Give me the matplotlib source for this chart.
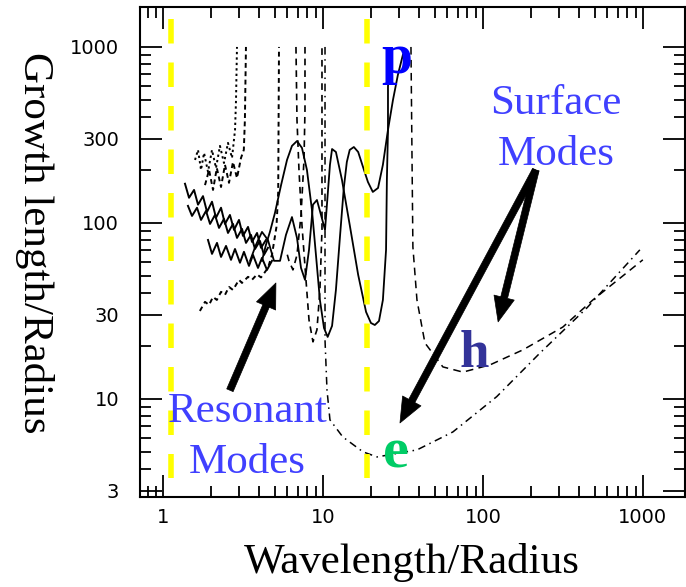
import matplotlib.pyplot as plt
from matplotlib.ticker import FixedLocator, NullFormatter

plt.rcParams["font.family"] = ["Liberation Serif", "DejaVu Serif"]

# resonant (body) modes
wig_upper_x = [1.372, 1.454, 1.563, 1.655, 1.778, 1.884, 2.024, 2.144, 2.305, 2.44,
               2.62, 2.78, 2.985, 3.16, 3.40, 3.60, 3.87, 4.10, 4.40]
wig_upper_y = [167, 139, 154, 127, 142, 115.5, 132, 107, 122, 98.7,
               111, 91.3, 104, 84.4, 94.9, 78.0, 87.7, 72.2, 80.0]

wig_mid_x = [1.432, 1.518, 1.631, 1.728, 1.857, 1.968, 2.113, 2.239, 2.405, 2.548,
             2.738, 2.901, 3.117, 3.302, 3.548, 3.758, 4.038, 4.276, 4.53]
wig_mid_y = [125, 109.6, 122, 104, 117, 98.7, 111, 93.7, 105.4, 87.7,
             98.7, 82.2, 92.5, 77.0, 85.5, 71.1, 79.0, 65.8, 72.2]

wig_low_x = [1.911, 2.024, 2.175, 2.305, 2.477, 2.661, 2.818, 3.028, 3.206, 3.447,
             3.652, 3.925, 4.156, 4.467, 4.8]
wig_low_y = [80.0, 66.7, 77.0, 64.1, 74.0, 61.7, 71.1, 59.4, 68.5, 57.0,
             65.8, 55.5, 63.3, 54.1, 60.9]

dot_a_x = [1.585, 1.655, 1.728, 1.805, 1.911, 2.024, 2.144, 2.27, 2.405, 2.548,
           2.70, 2.82, 2.86, 2.90]
dot_a_y = [228, 260, 200, 250, 195, 260, 205, 274, 219, 285, 234, 338, 500, 1000]

dash_b_x = [1.83, 1.94, 2.054, 2.17, 2.305, 2.44, 2.585, 2.738, 2.90, 3.073,
            3.20, 3.25, 3.30]
dash_b_y = [164, 200, 154, 205, 160, 214, 169, 222, 180, 234, 260, 385, 1000]

dash_low_x = [1.70, 1.83, 1.94, 2.054, 2.17, 2.305, 2.44, 2.585, 2.738, 2.985,
              3.117, 3.40, 3.60, 3.87, 4.10, 4.53, 4.80, 5.12, 5.25, 5.31]
dash_low_y = [31.6, 35.6, 34.2, 38.0, 36.5, 40.6, 39.0, 43.3, 41.6, 47.5,
              45.6, 49.4, 47.5, 51.0, 49.0, 55.5, 66.0, 95.0, 150, 1000]

dash_c_x = [7.72, 7.72, 7.61, 7.29, 6.88, 6.49, 6.13, 5.87]
dash_c_y = [1000, 439, 228, 111, 65.8, 54.1, 60.9, 70.3]

dash_d_x = [6.78, 6.88, 7.08, 7.39, 7.83, 8.18, 8.66, 9.17, 9.57, 9.86, 9.86, 9.86]
dash_d_y = [1000, 385, 200, 97.4, 47.5, 28.1, 21.1, 24.7, 41.6, 91.3, 260, 1000]

# pinch modes (solid), two long branches ending near "p"
pinch_a_x = [4.156, 4.40, 4.66, 5.01, 5.47, 5.96, 6.40, 6.88, 7.39, 7.94,
             8.53, 9.04, 9.57, 10.15, 10.7, 11.4, 12.05, 12.8, 13.5, 14.1,
             14.7, 15.6, 16.6, 17.8, 19.1, 20.5, 22.1, 23.7, 25.5, 27.4,
             29.4, 31.6]
pinch_a_y = [60.9, 75.0, 88.9, 114, 164, 228, 274, 292, 267, 200,
             119, 65.8, 36.5, 25.3, 22.5, 26.0, 41.6, 85.5, 158, 222,
             260, 270, 253, 208, 171, 150, 158, 214, 338, 500,
             693, 901]

pinch_b_x = [3.50, 3.81, 4.156, 4.53, 4.94, 5.39, 5.87, 6.40, 6.88, 7.29,
             7.72, 8.18, 8.66, 9.17, 9.72, 10.3, 10.7, 11.06, 11.4, 12.05,
             13.14, 14.7, 16.6, 18.6, 19.95, 21.1, 22.4, 23.7, 24.8, 25.1,
             25.5, 25.5, 25.9]
pinch_b_y = [60.9, 75.0, 88.9, 80.0, 60.9, 60.9, 85.5, 108, 82.2, 55.5,
             47.5, 70.3, 127, 135, 111, 91.3, 144, 214, 263, 253,
             176, 97.4, 50.7, 31.2, 27.0, 26.3, 27.7, 36.5, 70.3, 176,
             338, 592, 843]

# surface modes
ellip_x = [10.3, 10.3, 10.3, 10.6, 11.06, 13.3, 17.8, 21.8, 38.7, 64.9,
           122, 227, 447, 958]
ellip_y = [1000, 135, 21.6, 11.2, 7.6, 6.08, 5.0, 4.68, 5.13, 6.49,
           10.3, 18.2, 32.9, 70.3]

helix_x = [35.5, 36.0, 36.5, 38.7, 43.4, 56.2, 75.0, 110.6, 178, 316, 487, 1000]
helix_y = [1000, 260, 73.0, 36.5, 20.8, 15.2, 14.2, 15.6, 19.0, 25.6, 36.5, 61.7]

marker_lines_x = [1.12, 18.8]

x_major = [1, 10, 100, 1000]
x_minor = [0.8, 0.9] + [m * d for d in (1, 10, 100) for m in range(2, 10)]
y_major = [3, 10, 30, 100, 300, 1000]
y_minor = [m * d for d in (1, 10, 100) for m in (2, 4, 5, 6, 7, 8, 9)]

fig = plt.figure(figsize=(6.86, 5.87), dpi=100)
ax = fig.add_axes([0.2041, 0.1533, 0.7945, 0.8348])
ax.set_xscale("log")
ax.set_yscale("log")
ax.set_xlim(0.718, 1836)
ax.set_ylim(2.77, 1687)

wiggle_kw = dict(color="black", lw=1.4, solid_joinstyle="round")
ax.plot(wig_upper_x, wig_upper_y, **wiggle_kw)
ax.plot(wig_mid_x, wig_mid_y, **wiggle_kw)
ax.plot(wig_low_x, wig_low_y, **wiggle_kw)
ax.plot(dot_a_x, dot_a_y, color="black", lw=1.4, linestyle=(0, (1.2, 1.6)))
ax.plot(dash_b_x, dash_b_y, color="black", lw=1.4, linestyle=(0, (2.5, 1.8)))
ax.plot(dash_low_x, dash_low_y, color="black", lw=1.4, linestyle=(0, (2.5, 2)))
ax.plot(dash_c_x, dash_c_y, color="black", lw=1.2, linestyle=(0, (4, 3)))
ax.plot(dash_d_x, dash_d_y, color="black", lw=1.2, linestyle=(0, (4, 3)))
ax.plot(pinch_a_x, pinch_a_y, color="black", lw=1.3)
ax.plot(pinch_b_x, pinch_b_y, color="black", lw=1.3)
ax.plot(ellip_x, ellip_y, color="black", lw=1.1, linestyle=(0, (5, 3, 1, 3)))
ax.plot(helix_x, helix_y, color="black", lw=1.1, linestyle=(0, (5, 3.5)))

for xv in marker_lines_x:
    ax.plot([xv, xv], [1443, 3.56], color="#FFFF00", lw=4,
            linestyle=(0, (4.41, 3.42)), solid_capstyle="butt", zorder=3)

arrow_kw = dict(arrowstyle="simple,head_length=0.9,head_width=0.75,tail_width=0.25",
                mutation_scale=20, fc="black", ec="black", lw=0.5,
                shrinkA=0, shrinkB=0)
ax.annotate("", xy=(5.08, 45.6), xytext=(2.62, 11.2), arrowprops=arrow_kw, zorder=4)
ax.annotate("", xy=(30.3, 7.3), xytext=(214, 200), arrowprops=arrow_kw, zorder=4)
ax.annotate("", xy=(124.5, 27.4), xytext=(214, 200), arrowprops=arrow_kw, zorder=4)

label_blue = "#4040FF"
ax.text(3.37, 7.4, "Resonant", color=label_blue, fontsize=31, ha="center", va="baseline", zorder=5)
ax.text(3.37, 3.80, "Modes", color=label_blue, fontsize=31, ha="center", va="baseline", zorder=5)
ax.text(286, 416, "Surface", color=label_blue, fontsize=31, ha="center", va="baseline", zorder=5)
ax.text(286, 214, "Modes", color=label_blue, fontsize=31, ha="center", va="baseline", zorder=5)

ax.text(29.0, 711, "p", color="#0000FF", fontsize=40, fontweight="bold",
        ha="center", va="baseline", zorder=5)
ax.text(87.9, 15.2, "h", color="#333399", fontsize=38, fontweight="bold",
        ha="center", va="baseline", zorder=5)
ax.text(28.6, 4.06, "e", color="#00CC66", fontsize=42, fontweight="bold",
        ha="center", va="baseline", zorder=5)

ax.xaxis.set_major_locator(FixedLocator(x_major))
ax.xaxis.set_minor_locator(FixedLocator(x_minor))
ax.yaxis.set_major_locator(FixedLocator(y_major))
ax.yaxis.set_minor_locator(FixedLocator(y_minor))
ax.set_xticklabels([str(v) for v in x_major], family="DejaVu Sans", fontsize=14)
ax.set_yticklabels([str(v) for v in y_major], family="DejaVu Sans", fontsize=14)
ax.xaxis.set_minor_formatter(NullFormatter())
ax.yaxis.set_minor_formatter(NullFormatter())

ax.tick_params(which="both", direction="in", top=True, right=True, width=1.3)
ax.tick_params(which="major", length=16)
ax.tick_params(which="minor", length=8)
ax.tick_params(axis="x", which="major", pad=8)
ax.tick_params(axis="y", which="major", pad=15)
for spine in ax.spines.values():
    spine.set_linewidth(1.5)

fig.text(0.051, 0.586, "Growth length/Radius", fontsize=31, rotation=270,
         ha="center", va="center")
fig.text(0.6006, 0.041, "Wavelength/Radius", fontsize=31, ha="center", va="center")

fig.savefig("out.png", dpi=100)
